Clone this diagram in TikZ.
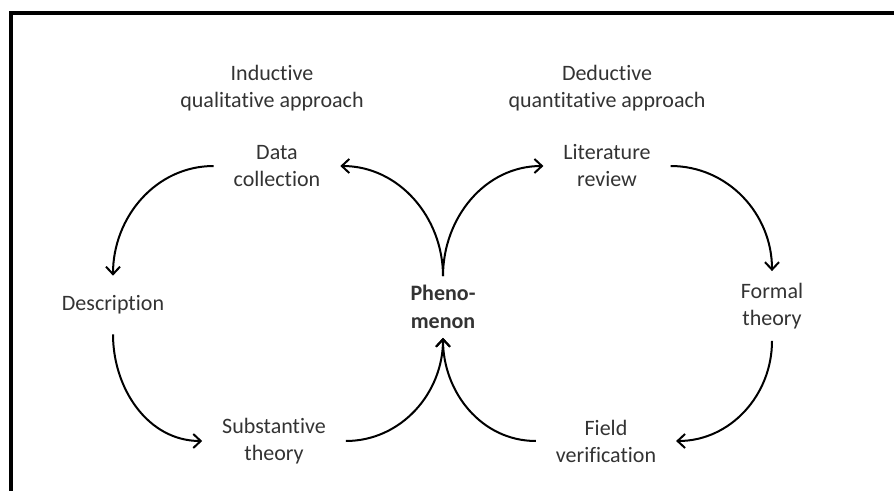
\documentclass[tikz,border=0pt]{standalone}
\usepackage{fontspec}
\setmainfont[Ligatures=NoCommon]{Carlito}
\usetikzlibrary{arrows.meta}

\begin{document}
\begin{tikzpicture}[x=1pt,y=1pt,
    lbl/.style={align=center,text=black!80,inner sep=0pt,outer sep=20pt,
      font=\fontsize{22}{27}\selectfont},
    flow/.style={-{Straight Barb[length=7.5pt,width=14pt]},line width=2pt,black}]
  \useasboundingbox (0,0) rectangle (894,491);
  % frame
  \draw[line width=4pt,line join=miter] (894,477.5) -- (11.2,477.5) -- (11.2,0);
  % approaches
  \node[lbl] (ind) at (272,403) {Inductive\\qualitative approach};
  \node[lbl] (ded) at (607,403) {Deductive\\quantitative approach};
  % stages
  \node[lbl] (datacol) at (277,325) {Data\\collection};
  \node[lbl] (litrev) at (607,325) {Literature\\review};
  \node[lbl] (desc) at (113,186) {Description};
  \node[lbl,outer sep=9pt,font=\fontsize{22}{28}\selectfont\bfseries] (phen) at (443,184) {Pheno-\\menon};
  \node[lbl,outer sep=12pt] (formal) at (772,185) {Formal\\theory};
  \node[lbl] (subst) at (274,50) {Substantive\\theory};
  \node[lbl] (field) at (606,50) {Field\\verification};
  % cycles
  \draw[flow] (datacol) to[out=180,in=90] (desc);
  \draw[flow] (desc) to[out=-90,in=180] (subst);
  \draw[flow] (subst) to[out=0,in=-90] (phen);
  \draw[flow] (field) to[out=180,in=-90] (phen);
  \draw[flow] (phen) to[out=90,in=0] (datacol);
  \draw[flow] (phen) to[out=90,in=180] (litrev);
  \draw[flow] (litrev) to[out=0,in=90] (formal);
  \draw[flow] (formal) to[out=-90,in=0] (field);
\end{tikzpicture}
\end{document}
